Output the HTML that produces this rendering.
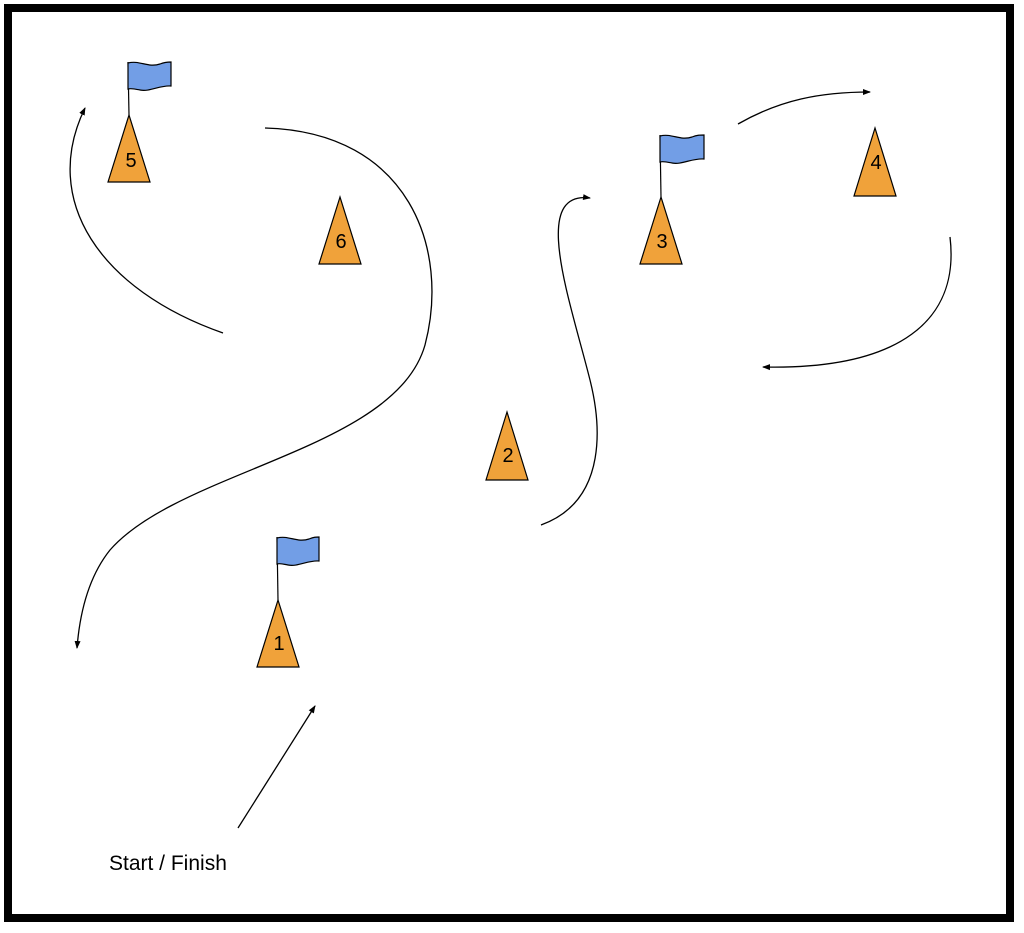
<!DOCTYPE html>
<html><head><style>body{margin:0;background:#fff}svg{display:block}</style></head><body>
<svg width="1024" height="933" viewBox="0 0 1024 933" xmlns="http://www.w3.org/2000/svg">
<defs><marker id="a" markerWidth="8" markerHeight="8" refX="7" refY="4" orient="auto" markerUnits="userSpaceOnUse"><path d="M0,1 L8,4 L0,7 Z" fill="#000"/></marker></defs>
<rect x="8" y="8" width="1002" height="910" fill="#fff" stroke="#000" stroke-width="8"/>
<g fill="none" stroke="#000" stroke-width="1.3">
<path d="M223,333 C100,290 40,200 85,108" marker-end="url(#a)"/>
<path d="M265,128 C410,132 450,250 425,345 C395,450 180,470 110,550 C90,575 80,610 77,648" marker-end="url(#a)"/>
<path d="M541,525 C610,500 600,420 590,380 C570,300 530,190 590,198" marker-end="url(#a)"/>
<path d="M738,124 C780,100 820,92 870,92" marker-end="url(#a)"/>
<path d="M950,237 C960,320 900,370 763,367" marker-end="url(#a)"/>
<path d="M238,828 L315,706" marker-end="url(#a)"/>
</g>
<g stroke="#000" stroke-width="1.2" fill="#729ee6">
<line x1="128" y1="62" x2="129" y2="115"/>
<path d="M128,63 C140,60 148,68 160,64 C165,62 168,62 171,62 L171,86 C160,85 150,92 140,90 C135,89 131,88 128,89 Z"/>
<line x1="660" y1="135" x2="661" y2="197"/>
<path d="M660,136 C672,133 680,141 692,137 C697,135 700,135 704,135 L704,159 C692,158 682,165 672,163 C667,162 663,161 660,162 Z"/>
<line x1="277" y1="537" x2="278" y2="600"/>
<path d="M277,538 C289,535 297,543 309,539 C314,537 316,537 319,537 L319,561 C308,560 298,567 288,565 C283,564 280,563 277,564 Z"/>
</g>
<g stroke="#000" stroke-width="1.2" fill="#f0a23a">
<polygon points="129,115 108,182 150,182"/>
<polygon points="340,197 319,264 361,264"/>
<polygon points="661,197 640,264 682,264"/>
<polygon points="875,128 854,196 896,196"/>
<polygon points="507,412 486,480 528,480"/>
<polygon points="278,600 257,667 299,667"/>
</g>
<g font-family="Liberation Sans, sans-serif" font-size="20" text-anchor="middle" fill="#000">
<text x="131" y="167">5</text><text x="341" y="248">6</text><text x="662" y="248">3</text>
<text x="876" y="169">4</text><text x="508" y="462">2</text><text x="279" y="650">1</text>
</g>
<text x="109" y="870" font-family="Liberation Sans, sans-serif" font-size="21" fill="#000">Start / Finish</text>
</svg>
</body></html>
